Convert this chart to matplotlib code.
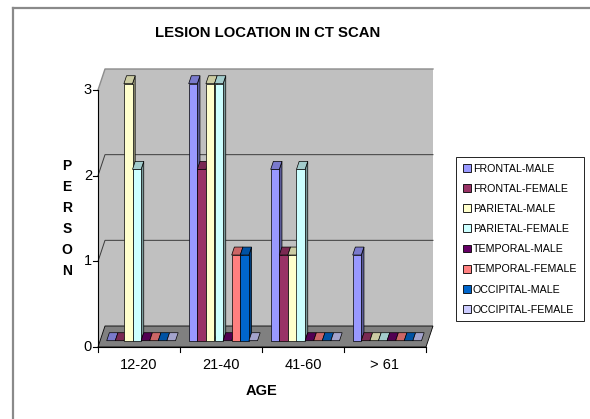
import matplotlib
matplotlib.use("Agg")
import matplotlib.pyplot as plt
from matplotlib.patches import Polygon, Patch
from matplotlib.lines import Line2D
import numpy as np

plt.rcParams['font.family'] = ['Liberation Sans', 'DejaVu Sans']

# ---- data -------------------------------------------------------------
age_groups = ["12-20", "21-40", "41-60", "> 61"]
series_names = ["FRONTAL-MALE", "FRONTAL-FEMALE", "PARIETAL-MALE",
                "PARIETAL-FEMALE", "TEMPORAL-MALE", "TEMPORAL-FEMALE",
                "OCCIPITAL-MALE", "OCCIPITAL-FEMALE"]
frontal_male = [0, 3, 2, 1]
frontal_female = [0, 2, 1, 0]
parietal_male = [3, 3, 1, 0]
parietal_female = [2, 3, 2, 0]
temporal_male = [0, 0, 0, 0]
temporal_female = [0, 1, 0, 0]
occipital_male = [0, 1, 0, 0]
occipital_female = [0, 0, 0, 0]
y_ticks = [0, 1, 2, 3]

series_values = [frontal_male, frontal_female, parietal_male, parietal_female,
                 temporal_male, temporal_female, occipital_male, occipital_female]
series_colors = ["#9999FF", "#993366", "#FFFFCC", "#CCFFFF",
                 "#660066", "#FF8080", "#0066CC", "#CCCCFF"]

# ---- figure / plot area (front plane) ---------------------------------
W, H = 590, 419
fig = plt.figure(figsize=(W / 100, H / 100), dpi=100)

x0_px, x1_px = 98, 426
y0_px, ytop_px = 347, 90
ymax = y_ticks[-1]
ax = fig.add_axes([x0_px / W, 1 - y0_px / H,
                   (x1_px - x0_px) / W, (y0_px - ytop_px) / H])
ncat = len(age_groups)
ax.set_xlim(0, ncat)
ax.set_ylim(0, ymax)
ax.axis('off')

px_x = (x1_px - x0_px) / ncat      # pixels per category unit
px_y = (y0_px - ytop_px) / ymax    # pixels per value unit

# oblique depth of the chart box, in data units
ddx = 7 / px_x
ddy = 21 / px_y

wall_c = "#C0C0C0"
floor_c = "#808080"
grid_c = "#3a3a3a"

# side wall and back wall
ax.add_patch(Polygon([(0, 0), (ddx, ddy), (ddx, ymax + ddy), (0, ymax)],
                     closed=True, facecolor=wall_c, edgecolor='none',
                     clip_on=False, zorder=1))
ax.add_patch(Polygon([(ddx, ddy), (ncat + ddx, ddy), (ncat + ddx, ymax + ddy),
                      (ddx, ymax + ddy)], closed=True, facecolor=wall_c,
                     edgecolor='none', clip_on=False, zorder=1))

# gridlines across side wall and back wall (the top one is lighter)
for v in y_ticks[1:]:
    c = grid_c if v < ymax else "#8c8c8c"
    ax.plot([0, ddx, ncat + ddx], [v, v + ddy, v + ddy], color=c,
            lw=0.7 if v < ymax else 1.0, clip_on=False, zorder=2)

# floor
ax.add_patch(Polygon([(0, 0), (ncat, 0), (ncat + ddx, ddy), (ddx, ddy)],
                     closed=True, facecolor=floor_c, edgecolor='black',
                     lw=0.6, clip_on=False, zorder=2))

# value axis
tick_x = 5 / px_x
ax.plot([0, 0], [0, ymax], color='black', lw=0.8, clip_on=False, zorder=3)
for v in y_ticks:
    ax.plot([-tick_x, 0], [v, v], color='black', lw=0.8, clip_on=False, zorder=3)
    ax.text(-tick_x - 1 / px_x, v, str(v), ha='right', va='center',
            fontsize=10.5, clip_on=False)

# category axis
tick_y = 5 / px_y
ax.plot([0, ncat], [0, 0], color='black', lw=0.8, clip_on=False, zorder=3)
for k in range(ncat + 1):
    ax.plot([k, k], [0, -tick_y], color='black', lw=0.8, clip_on=False, zorder=3)
for i, lab in enumerate(age_groups):
    ax.text(i + 0.5, -18 / px_y, lab, ha='center', va='center',
            fontsize=10.5, clip_on=False)

ax.text(ncat / 2, -44 / px_y, "AGE", ha='center', va='center',
        fontsize=10.5, fontweight='bold', clip_on=False)


def shade(color, f):
    rgb = np.array(matplotlib.colors.to_rgb(color))
    return tuple(rgb * f)


# ---- 3D-style columns ---------------------------------------------------
nser = len(series_values)
bar_w = 8.6 / px_x
front_f, back_f = 0.30, 0.68
fdx, fdy = front_f * ddx, front_f * ddy
bdx, bdy = (back_f - front_f) * ddx, (back_f - front_f) * ddy

z = 4
for i in range(ncat):
    for j, (vals, col) in enumerate(zip(series_values, series_colors)):
        h = vals[i]
        x = i + 0.5 - nser * bar_w / 2 + j * bar_w + fdx
        y = fdy
        top = [(x, y + h), (x + bar_w, y + h),
               (x + bar_w + bdx, y + h + bdy), (x + bdx, y + h + bdy)]
        if h > 0:
            side = [(x + bar_w, y), (x + bar_w + bdx, y + bdy),
                    (x + bar_w + bdx, y + h + bdy), (x + bar_w, y + h)]
            ax.add_patch(Polygon(side, closed=True, facecolor=shade(col, 0.6),
                                 edgecolor='black', lw=0.5, clip_on=False,
                                 zorder=z))
            ax.bar(x, h, width=bar_w, bottom=y, align='edge', color=col,
                   edgecolor='black', linewidth=0.5, clip_on=False,
                   zorder=z + 0.2)
        ax.add_patch(Polygon(top, closed=True, facecolor=shade(col, 0.8),
                             edgecolor='black', lw=0.5, clip_on=False,
                             zorder=z + 0.1))
        z += 1

# ---- titles -------------------------------------------------------------
fig.text(268 / W, 1 - 33 / H, "LESION LOCATION IN CT SCAN", ha='center',
         va='center', fontsize=10.7, fontweight='bold')
fig.text(67 / W, 1 - 218.5 / H, "P\nE\nR\nS\nO\nN", ha='center', va='center',
         fontsize=10, fontweight='bold', linespacing=1.62)

# ---- legend -------------------------------------------------------------
handles = [Patch(facecolor=c, edgecolor='black', lw=0.6) for c in series_colors]
leg = fig.legend(handles, series_names, loc='upper left',
                 bbox_to_anchor=(456 / W, 1 - 157 / H), fontsize=7.7,
                 frameon=True, fancybox=False, edgecolor='black',
                 framealpha=1, handlelength=0.75, handleheight=0.75,
                 handletextpad=0.2, labelspacing=0.95, borderpad=0.62,
                 borderaxespad=0)
leg.get_frame().set_linewidth(0.6)

# ---- chart area border --------------------------------------------------
fig.add_artist(Line2D([12.5 / W, 12.5 / W], [1 - 8.5 / H, -0.05],
                      transform=fig.transFigure, color='#8a8a8a', lw=1.6))
fig.add_artist(Line2D([12.5 / W, 1.05], [1 - 8.5 / H, 1 - 8.5 / H],
                      transform=fig.transFigure, color='#8a8a8a', lw=1.6))

fig.savefig("out.png", dpi=100)
